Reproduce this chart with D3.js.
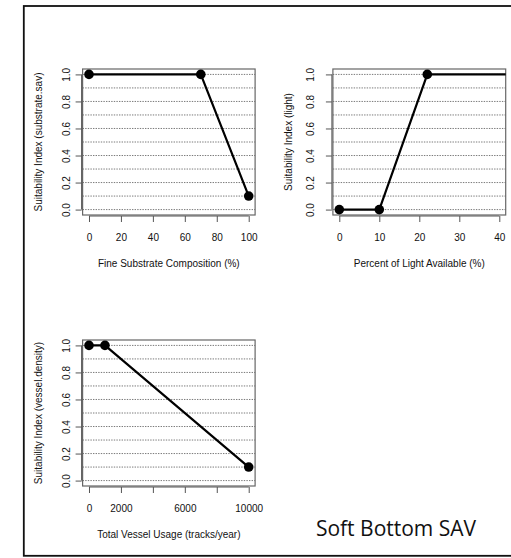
<!DOCTYPE html>
<html>
<head>
<meta charset="utf-8">
<script src="https://cdn.jsdelivr.net/npm/d3@7"></script>
<style>
  html, body { margin: 0; padding: 0; background: #fff; }
  svg { display: block; }
</style>
</head>
<body>
<svg id="chart" width="511" height="558"></svg>
<script>
// Habitat suitability curves (Soft Bottom SAV)
const substrateX = [0, 70, 100];
const substrateY = [1, 1, 0.1];
const substrateTicks = [0, 20, 40, 60, 80, 100];

const lightX = [0, 10, 22, 100];
const lightY = [0, 0, 1, 1];
const lightTicks = [0, 10, 20, 30, 40];

const vesselX = [0, 1000, 10000];
const vesselY = [1, 1, 0.1];
const vesselTicks = [0, 2000, 4000, 6000, 8000, 10000];
const vesselTickLabels = ["0", "2000", "", "6000", "", "10000"];

const yTicks = [0, 0.2, 0.4, 0.6, 0.8, 1.0];
const gridLevels = [0, 0.1, 0.2, 0.3, 0.4, 0.5, 0.6, 0.7, 0.8, 0.9, 1.0];

const panels = [
  { id: "p1", xs: substrateX, ys: substrateY, xlim: [0, 100], ticks: substrateTicks,
    tickLabels: substrateTicks.map(String),
    xTitle: "Fine Substrate Composition (%)", yTitle: "Suitability Index (substrate.sav)",
    box: { x0: 82.6, x1: 255.1, y0: 69, y1: 215 }, yLabelOff: 12, yTitleOff: 44 },
  { id: "p2", xs: lightX, ys: lightY, xlim: [0, 40], ticks: lightTicks,
    tickLabels: lightTicks.map(String),
    xTitle: "Percent of Light Available (%)", yTitle: "Suitability Index (light)",
    box: { x0: 332.9, x1: 505.7, y0: 69, y1: 215 }, yLabelOff: 17.5, yTitleOff: 44 },
  { id: "p3", xs: vesselX, ys: vesselY, xlim: [0, 10000], ticks: vesselTicks,
    tickLabels: vesselTickLabels,
    xTitle: "Total Vessel Usage (tracks/year)", yTitle: "Suitability Index (vessel.density)",
    box: { x0: 82.6, x1: 255.1, y0: 340, y1: 486 }, yLabelOff: 12, yTitleOff: 44 }
];

const svg = d3.select("#chart");
const FONT = "'Liberation Sans', Arial, sans-serif";

// outer frame
svg.append("rect")
  .attr("x", 23.8).attr("y", 6)
  .attr("width", 520).attr("height", 549.8)
  .attr("fill", "none").attr("stroke", "#111").attr("stroke-width", 1.8);

// R-style 4% axis padding
function pad(lim) {
  const d = (lim[1] - lim[0]) * 0.04;
  return [lim[0] - d, lim[1] + d];
}

panels.forEach(p => {
  const b = p.box;
  const x = d3.scaleLinear().domain(pad(p.xlim)).range([b.x0, b.x1]);
  const y = d3.scaleLinear().domain(pad([0, 1])).range([b.y1, b.y0]);
  const g = svg.append("g");

  const clipId = "clip-" + p.id;
  svg.append("clipPath").attr("id", clipId)
    .append("rect").attr("x", b.x0).attr("y", b.y0)
    .attr("width", b.x1 - b.x0).attr("height", b.y1 - b.y0);

  // dotted horizontal grid
  g.selectAll("line.grid").data(gridLevels).join("line")
    .attr("class", "grid")
    .attr("x1", b.x0).attr("x2", b.x1)
    .attr("y1", d => y(d)).attr("y2", d => y(d))
    .attr("stroke", "#7a7a7a").attr("stroke-width", 1)
    .attr("stroke-dasharray", "1.4,1.2");

  // x axis
  const xAxis = d3.axisBottom(x).tickValues(p.ticks).tickSize(6).tickSizeOuter(0)
    .tickFormat((d, i) => p.tickLabels[i]);
  const xa = g.append("g").attr("transform", `translate(0,${b.y1 + 1})`).call(xAxis);
  xa.select(".domain").attr("d", `M${x(p.ticks[0])},0H${x(p.ticks[p.ticks.length - 1])}`)
    .attr("stroke", "#555");
  xa.selectAll(".tick line").attr("stroke", "#555");
  xa.selectAll(".tick text").attr("y", 21.5).attr("dy", "0.35em")
    .attr("font-family", FONT).attr("font-size", 10).attr("fill", "#111");

  // y axis with rotated labels
  const yAxis = d3.axisLeft(y).tickValues(yTicks).tickSize(6).tickSizeOuter(0)
    .tickFormat(d3.format(".1f"));
  const ya = g.append("g").attr("transform", `translate(${b.x0 - 1},0)`).call(yAxis);
  ya.select(".domain").attr("d", `M0,${y(0)}V${y(1)}`).attr("stroke", "#555");
  ya.selectAll(".tick line").attr("stroke", "#555");
  ya.selectAll(".tick text")
    .attr("x", null).attr("dy", null)
    .attr("text-anchor", "middle")
    .attr("transform", `translate(${-p.yLabelOff - 3.5},0) rotate(-90)`)
    .attr("dy", "0.35em")
    .attr("font-family", FONT).attr("font-size", 10).attr("fill", "#111");

  // plot box
  g.append("rect")
    .attr("x", b.x0).attr("y", b.y0)
    .attr("width", b.x1 - b.x0).attr("height", b.y1 - b.y0)
    .attr("fill", "none").attr("stroke", "#666").attr("stroke-width", 1.2);

  // axis titles
  g.append("text")
    .attr("x", (b.x0 + b.x1) / 2).attr("y", b.y1 + 48.3).attr("dy", "0.35em")
    .attr("text-anchor", "middle")
    .attr("font-family", FONT).attr("font-size", 10).attr("fill", "#111")
    .text(p.xTitle);
  g.append("text")
    .attr("transform", `translate(${b.x0 - p.yTitleOff},${(b.y0 + b.y1) / 2}) rotate(-90)`)
    .attr("dy", "0.35em")
    .attr("text-anchor", "middle")
    .attr("font-family", FONT).attr("font-size", 10).attr("fill", "#111")
    .text(p.yTitle);

  // curve and points
  const pts = p.xs.map((v, i) => [v, p.ys[i]]);
  const data = g.append("g").attr("clip-path", `url(#${clipId})`);
  data.append("path")
    .datum(pts)
    .attr("d", d3.line().x(d => x(d[0])).y(d => y(d[1])))
    .attr("fill", "none").attr("stroke", "#000").attr("stroke-width", 2.2)
    .attr("stroke-linejoin", "round");
  data.selectAll("circle").data(pts).join("circle")
    .attr("cx", d => x(d[0])).attr("cy", d => y(d[1]))
    .attr("r", 4.8).attr("fill", "#000");
});

// figure label
svg.append("text")
  .attr("x", 396).attr("y", 535.5)
  .attr("text-anchor", "middle")
  .attr("font-family", "'Open Sans', 'Noto Sans', sans-serif")
  .attr("font-size", 21).attr("fill", "#111")
  .text("Soft Bottom SAV");
</script>
</body>
</html>
